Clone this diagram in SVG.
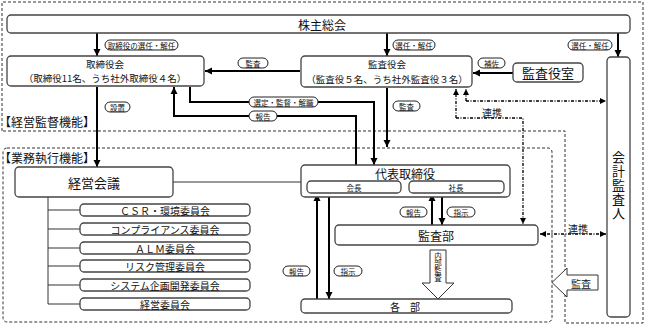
<svg xmlns="http://www.w3.org/2000/svg" width="645" height="325" viewBox="0 0 645 325">
<style>
text{font-family:"Noto Sans CJK JP","Noto Sans",sans-serif;fill:#111;text-anchor:middle;dominant-baseline:central}
.box{fill:#fff;stroke:#444;stroke-width:1.3}
.t13{font-size:13px}
.t12{font-size:12px}
.t10{font-size:10px}
.t95{font-size:9.5px}
.t8{font-size:7.5px}
.vt{font-size:7.5px;writing-mode:vertical-rl;text-anchor:middle;dominant-baseline:central}
.vt13{font-size:13px;writing-mode:vertical-rl;text-anchor:middle;dominant-baseline:central;letter-spacing:1px}
.pill{fill:#fff;stroke:#222;stroke-width:1}
.ln{fill:none;stroke:#000;stroke-width:2}
.thin{fill:none;stroke:#333;stroke-width:1}
.dd{fill:none;stroke:#000;stroke-width:1.3;stroke-dasharray:3,1.5,1,1.5}
.region{fill:none;stroke:#333;stroke-width:1;stroke-dasharray:3,2}
.hollow{fill:#fff;stroke:#333;stroke-width:1}
</style>
<defs>
<marker id="ah" markerWidth="8" markerHeight="8" refX="7" refY="4" orient="auto" markerUnits="userSpaceOnUse">
<path d="M0,0.5 L7,4 L0,7.5 Z" fill="#000"/>
</marker>
<marker id="ahs" markerWidth="7" markerHeight="7" refX="6" refY="3.5" orient="auto" markerUnits="userSpaceOnUse">
<path d="M0,0.5 L6,3.5 L0,6.5 Z" fill="#000"/>
</marker>
<marker id="ahsr" markerWidth="7" markerHeight="7" refX="0" refY="3.5" orient="auto" markerUnits="userSpaceOnUse">
<path d="M6,0.5 L0,3.5 L6,6.5 Z" fill="#000"/>
</marker>
</defs>
<rect width="645" height="325" fill="#fff"/>

<g id="regions">
<path class="region" d="M2,131 L2,2 L643,2 L643,323 L565,323 L565,131 Z"/>
<rect class="region" x="3" y="148" width="549" height="174" rx="4"/>
<text class="t12" x="47" y="121">【経営監督機能】</text>
<text class="t12" x="47" y="157">【業務執行機能】</text>
</g>

<g id="connectors">
<line class="ln" x1="97" y1="33" x2="97" y2="56" marker-end="url(#ah)"/>
<line class="ln" x1="387" y1="33" x2="387" y2="56" marker-end="url(#ah)"/>
<line class="ln" x1="618" y1="33" x2="618" y2="57" marker-end="url(#ah)"/>
<line class="ln" x1="300" y1="71" x2="205" y2="71" marker-end="url(#ah)"/>
<line class="ln" x1="513" y1="73" x2="473" y2="73" marker-end="url(#ah)"/>
<path class="ln" d="M190,87 L190,102 L374,102 L374,165" marker-end="url(#ah)"/>
<path class="ln" d="M356,165 L356,116 L174,116 L174,87" marker-end="url(#ah)"/>
<line class="ln" x1="97" y1="87" x2="97" y2="167" marker-end="url(#ah)"/>
<line class="ln" x1="387" y1="88" x2="387" y2="147" marker-end="url(#ah)"/>
<line class="thin" x1="173" y1="182" x2="301" y2="182"/>
<path class="thin" d="M48,197 L48,304 M48,210 L80,210 M48,229 L80,229 M48,248 L80,248 M48,266 L80,266 M48,285 L80,285 M48,304 L80,304"/>
<line class="ln" x1="432" y1="225" x2="432" y2="194" marker-end="url(#ah)"/>
<line class="ln" x1="442" y1="193" x2="442" y2="225" marker-end="url(#ah)"/>
<line class="ln" x1="317" y1="299" x2="317" y2="194" marker-end="url(#ah)"/>
<line class="ln" x1="329" y1="193" x2="329" y2="299" marker-end="url(#ah)"/>
<path class="dd" d="M466,101 L466,89" marker-end="url(#ahs)"/>
<path class="dd" d="M466,101 L606,101" marker-end="url(#ahs)"/>
<path class="dd" d="M456,118 L456,89" marker-end="url(#ahs)"/>
<path class="dd" d="M456,118 L523,118 L523,224" marker-end="url(#ahs)"/>
<path class="dd" d="M540,234 L606,234" marker-start="url(#ahsr)" marker-end="url(#ahs)"/>
<path class="hollow" d="M430,250 L446,250 L446,283 L454,283 L438,299 L422,283 L430,283 Z"/>
<path class="hollow" d="M598,275 L598,290 L567,290 L567,297 L552,282.5 L567,268 L567,275 Z"/>
</g>

<g id="labels">
<rect class="pill" x="105" y="40" width="73" height="10" rx="5"/><text class="t8" x="141.5" y="45">取締役の選任・解任</text>
<rect class="pill" x="393" y="40" width="42" height="10" rx="5"/><text class="t8" x="414" y="45">選任・解任</text>
<rect class="pill" x="568" y="40" width="44" height="10" rx="5"/><text class="t8" x="590" y="45">選任・解任</text>
<rect class="pill" x="238" y="58" width="30" height="10" rx="5"/><text class="t8" x="253" y="63">監査</text>
<rect class="pill" x="478" y="58" width="27" height="10" rx="5"/><text class="t8" x="491.5" y="63">補佐</text>
<rect class="pill" x="249" y="97" width="69" height="10" rx="5"/><text class="t8" x="283.5" y="102">選定・監督・解職</text>
<rect class="pill" x="249" y="111" width="28" height="10" rx="5"/><text class="t8" x="263" y="116">報告</text>
<rect class="pill" x="105" y="102" width="25" height="10" rx="5"/><text class="t8" x="117.5" y="107">設置</text>
<rect class="pill" x="393" y="101" width="27" height="10" rx="5"/><text class="t8" x="406.5" y="106">監査</text>
<text class="t10" x="492" y="112">連携</text>
<text class="t10" x="578" y="228">連携</text>
<rect class="pill" x="400" y="207" width="27" height="10" rx="5"/><text class="t8" x="413.5" y="212">報告</text>
<rect class="pill" x="447" y="207" width="28" height="10" rx="5"/><text class="t8" x="461" y="212">指示</text>
<rect class="pill" x="283" y="266" width="27" height="10" rx="5"/><text class="t8" x="296.5" y="271">報告</text>
<rect class="pill" x="334" y="266" width="28" height="10" rx="5"/><text class="t8" x="348" y="271">指示</text>
<text class="vt" x="438" y="267">内部監査</text>
<text class="t10" x="581" y="283">監査</text>
</g>

<g id="n-kabunushi">
<rect class="box" x="7" y="15" width="623" height="18" rx="4"/>
<text class="t12" x="322" y="24">株主総会</text>
</g>
<g id="n-torishimariyakukai">
<rect class="box" x="7" y="56" width="197" height="30" rx="4"/>
<text class="t95" x="105" y="63.5">取締役会</text>
<text class="t95" x="105" y="78">（取締役11名、うち社外取締役４名）</text>
</g>
<g id="n-kansayakukai">
<rect class="box" x="301" y="56" width="171" height="31" rx="4"/>
<text class="t95" x="387" y="64">監査役会</text>
<text class="t95" x="387" y="78.5">（監査役５名、うち社外監査役３名）</text>
</g>
<g id="n-kansayakushitsu">
<rect class="box" x="513" y="63" width="70" height="19" rx="4"/>
<text class="t13" x="548" y="72.5">監査役室</text>
</g>
<g id="n-kaikei">
<rect class="box" x="607" y="57" width="23" height="260" rx="4"/>
<text class="vt13" x="618.5" y="186">会計監査人</text>
</g>
<g id="n-keieikaigi">
<rect class="box" x="15" y="167" width="158" height="30" rx="4"/>
<text class="t13" x="94" y="182">経営会議</text>
</g>
<g id="n-daihyo">
<rect class="box" x="301" y="165" width="209" height="32" rx="4"/>
<text class="t12" x="405" y="173">代表取締役</text>
<rect class="box" x="307" y="181" width="94" height="12" rx="4"/>
<text class="t8" x="354" y="187">会長</text>
<rect class="box" x="409" y="181" width="95" height="12" rx="4"/>
<text class="t8" x="456" y="187">社長</text>
</g>
<g id="n-kansabu">
<rect class="box" x="335" y="225" width="203" height="20" rx="4"/>
<text class="t12" x="436" y="235">監査部</text>
</g>
<g id="n-kakubu">
<rect class="box" x="301" y="299" width="211" height="14" rx="4"/>
<text class="t10" x="405" y="306">各　部</text>
</g>
<g id="n-c1"><rect class="box" x="80" y="204" width="170" height="12" rx="4"/><text class="t10" x="165" y="210">ＣＳＲ・環境委員会</text></g>
<g id="n-c2"><rect class="box" x="80" y="223" width="170" height="12" rx="4"/><text class="t10" x="165" y="229">コンプライアンス委員会</text></g>
<g id="n-c3"><rect class="box" x="80" y="242" width="170" height="12" rx="4"/><text class="t10" x="165" y="248">ＡＬＭ委員会</text></g>
<g id="n-c4"><rect class="box" x="80" y="260" width="170" height="12" rx="4"/><text class="t10" x="165" y="266">リスク管理委員会</text></g>
<g id="n-c5"><rect class="box" x="80" y="279" width="170" height="12" rx="4"/><text class="t10" x="165" y="285">システム企画開発委員会</text></g>
<g id="n-c6"><rect class="box" x="80" y="298" width="170" height="12" rx="4"/><text class="t10" x="165" y="304">経営委員会</text></g>
</svg>
